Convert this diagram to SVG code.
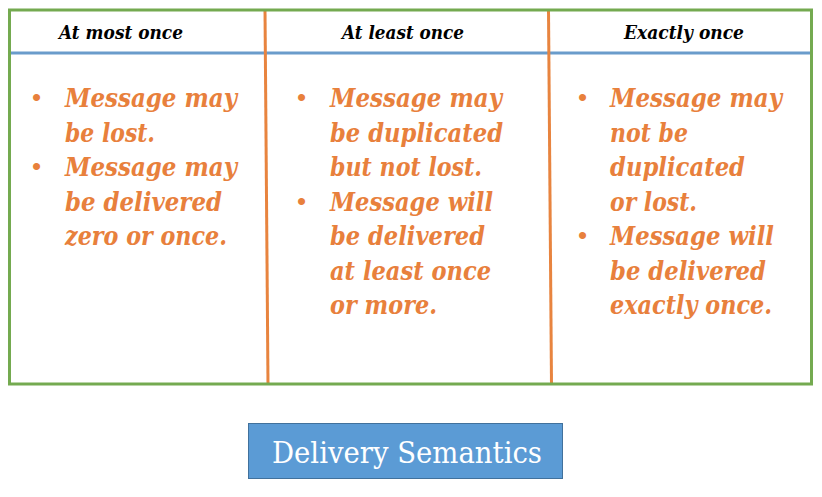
<svg xmlns="http://www.w3.org/2000/svg" width="822" height="497" viewBox="0 0 822 497">
<style>
.hd{font-family:"DejaVu Serif","Liberation Serif",serif;font-weight:bold;font-style:italic;font-size:18px;fill:#000}
.bd{font-family:"DejaVu Serif","Liberation Serif",serif;font-weight:bold;font-style:italic;font-size:26px;fill:#E8803C}
.bl{font-family:"Liberation Sans",Arial,sans-serif;font-size:26px;fill:#E8803C}
.ttl{font-family:"DejaVu Serif","Liberation Serif",serif;font-size:30px;fill:#fff}
</style>
<rect width="822" height="497" fill="#fff"/>
<g id="table">
  <line x1="10" y1="53" x2="811" y2="53" stroke="#6A9CCB" stroke-width="3"/>
  <line x1="265" y1="10" x2="268" y2="384" stroke="#E8843F" stroke-width="3"/>
  <line x1="548.5" y1="10" x2="551.5" y2="384" stroke="#E8843F" stroke-width="3"/>
  <rect x="9.5" y="10" width="802" height="374" fill="none" stroke="#74AA50" stroke-width="3"/>
</g>
<g id="col1">
  <text class="hd" x="59" y="39" textLength="124" lengthAdjust="spacingAndGlyphs">At most once</text>
  <text class="bl" x="32" y="106">•</text>
  <text class="bl" x="32" y="175">•</text>
  <text class="bd" x="65" y="107" textLength="172" lengthAdjust="spacingAndGlyphs">Message may</text>
  <text class="bd" x="65" y="141.5" textLength="90" lengthAdjust="spacingAndGlyphs">be lost.</text>
  <text class="bd" x="65" y="176" textLength="172" lengthAdjust="spacingAndGlyphs">Message may</text>
  <text class="bd" x="65" y="210.5" textLength="157" lengthAdjust="spacingAndGlyphs">be delivered</text>
  <text class="bd" x="65" y="245" textLength="162" lengthAdjust="spacingAndGlyphs">zero or once.</text>
</g>
<g id="col2">
  <text class="hd" x="342" y="39" textLength="122" lengthAdjust="spacingAndGlyphs">At least once</text>
  <text class="bl" x="297" y="106">•</text>
  <text class="bl" x="297" y="209.5">•</text>
  <text class="bd" x="330" y="107" textLength="172" lengthAdjust="spacingAndGlyphs">Message may</text>
  <text class="bd" x="330" y="141.5" textLength="173" lengthAdjust="spacingAndGlyphs">be duplicated</text>
  <text class="bd" x="330" y="176" textLength="152" lengthAdjust="spacingAndGlyphs">but not lost.</text>
  <text class="bd" x="330" y="210.5" textLength="163" lengthAdjust="spacingAndGlyphs">Message will</text>
  <text class="bd" x="330" y="245" textLength="155" lengthAdjust="spacingAndGlyphs">be delivered</text>
  <text class="bd" x="330" y="279.5" textLength="161" lengthAdjust="spacingAndGlyphs">at least once</text>
  <text class="bd" x="330" y="314" textLength="107" lengthAdjust="spacingAndGlyphs">or more.</text>
</g>
<g id="col3">
  <text class="hd" x="624" y="39" textLength="120" lengthAdjust="spacingAndGlyphs">Exactly once</text>
  <text class="bl" x="578" y="106">•</text>
  <text class="bl" x="578" y="244">•</text>
  <text class="bd" x="610" y="107" textLength="172" lengthAdjust="spacingAndGlyphs">Message may</text>
  <text class="bd" x="610" y="141.5" textLength="78" lengthAdjust="spacingAndGlyphs">not be</text>
  <text class="bd" x="610" y="176" textLength="135" lengthAdjust="spacingAndGlyphs">duplicated</text>
  <text class="bd" x="610" y="210.5" textLength="87" lengthAdjust="spacingAndGlyphs">or lost.</text>
  <text class="bd" x="610" y="245" textLength="164" lengthAdjust="spacingAndGlyphs">Message will</text>
  <text class="bd" x="610" y="279.5" textLength="156" lengthAdjust="spacingAndGlyphs">be delivered</text>
  <text class="bd" x="610" y="314" textLength="162" lengthAdjust="spacingAndGlyphs">exactly once.</text>
</g>
<g id="title">
  <rect x="248.5" y="423.5" width="314" height="55" fill="#5B9BD5" stroke="#41719C" stroke-width="1"/>
  <text class="ttl" x="272" y="463" textLength="270" lengthAdjust="spacingAndGlyphs">Delivery Semantics</text>
</g>
</svg>
